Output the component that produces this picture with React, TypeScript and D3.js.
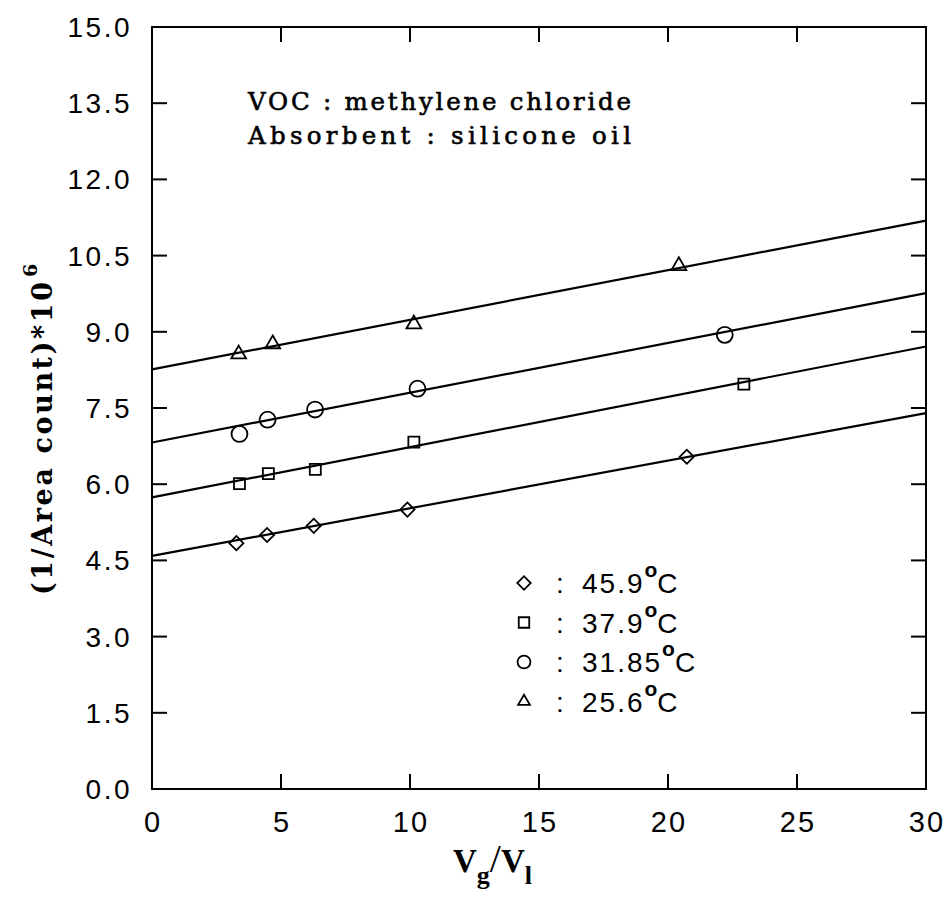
import React, { useEffect } from 'react';
import * as d3 from 'd3';

// values
const xTicks = [0, 5, 10, 15, 20, 25, 30];
const yTicks = [0, 1.5, 3, 4.5, 6, 7.5, 9, 10.5, 12, 13.5, 15];

const tempLabels = ['45.9', '37.9', '31.85', '25.6'];
const markerKinds = ['diamond', 'square', 'circle', 'triangle'];

const diamondX = [3.27, 4.46, 6.27, 9.9, 20.73];
const diamondY = [4.84, 5.0, 5.18, 5.5, 6.54];
const squareX = [3.39, 4.51, 6.33, 10.15, 22.94];
const squareY = [6.01, 6.21, 6.29, 6.83, 7.97];
const circleX = [3.39, 4.48, 6.32, 10.29, 22.2];
const circleY = [6.99, 7.27, 7.47, 7.88, 8.94];
const triangleX = [3.36, 4.68, 10.15, 20.42];
const triangleY = [8.56, 8.76, 9.15, 10.3];

// fitted lines, value at x = 0 and at x = 30
const fitStart = [4.59, 5.74, 6.82, 8.26];
const fitEnd = [7.4, 8.71, 9.76, 11.19];

const seriesX = [diamondX, squareX, circleX, triangleX];
const seriesY = [diamondY, squareY, circleY, triangleY];

const W = 949;
const H = 904;
const left = 152, right = 926, top = 27, bottom = 789;

const x = d3.scaleLinear().domain([0, 30]).range([left, right]);
const y = d3.scaleLinear().domain([0, 15]).range([bottom, top]);

const sansFont = '"Liberation Sans", Arial, sans-serif';
const slabFont = '"DejaVu Serif", serif';
const serifFont = '"Liberation Serif", "Times New Roman", serif';

const markerPath = (kind: string, big: boolean) => {
  if (kind === 'circle') return d3.symbol(d3.symbolCircle, big ? 200 : 130)() as string;
  if (kind === 'square') return d3.symbol(d3.symbolSquare, big ? 121 : 110)() as string;
  if (kind === 'triangle') return d3.symbol(d3.symbolTriangle, big ? 95 : 60)() as string;
  return d3.symbol(d3.symbolSquare, big ? 100 : 90)() as string;
};

const Marker = ({ kind, cx, cy, big }: { kind: string; cx: number; cy: number; big: boolean }) => (
  <path
    d={markerPath(kind, big)}
    transform={`translate(${cx},${cy})${kind === 'diamond' ? ' rotate(45)' : ''}`}
    fill="none"
    stroke="#000"
    strokeWidth={1.8}
  />
);

export default function App() {
  useEffect(() => {
    document.body.style.margin = '0';
  }, []);

  const tickLen = 15;
  const line = d3.line<[number, number]>().x(d => x(d[0])).y(d => y(d[1]));

  return (
    <svg width={W} height={H} style={{ display: 'block', background: '#fff' }}>
      {/* frame */}
      <rect x={left} y={top} width={right - left} height={bottom - top} fill="none" stroke="#000" strokeWidth={2} />

      {/* x ticks, inward on bottom and top */}
      {xTicks.map(t => (
        <g key={`xt${t}`}>
          {t > 0 && t < 30 && (
            <>
              <line x1={x(t)} x2={x(t)} y1={bottom} y2={bottom - tickLen} stroke="#000" strokeWidth={2} />
              <line x1={x(t)} x2={x(t)} y1={top} y2={top + tickLen} stroke="#000" strokeWidth={2} />
            </>
          )}
          <text x={x(t) + 1} y={832} textAnchor="middle" fontFamily={sansFont} fontSize={29} letterSpacing={2} fill="#000">
            {t}
          </text>
        </g>
      ))}

      {/* y ticks, inward on left and right */}
      {yTicks.map(t => (
        <g key={`yt${t}`}>
          {t > 0 && t < 15 && (
            <>
              <line x1={left} x2={left + tickLen} y1={y(t)} y2={y(t)} stroke="#000" strokeWidth={2} />
              <line x1={right} x2={right - tickLen} y1={y(t)} y2={y(t)} stroke="#000" strokeWidth={2} />
            </>
          )}
          <text x={132} y={y(t) + 10} textAnchor="end" fontFamily={sansFont} fontSize={28} letterSpacing={2.5} fill="#000">
            {t.toFixed(1)}
          </text>
        </g>
      ))}

      {/* fitted lines */}
      {fitStart.map((s, i) => (
        <path
          key={`fit${i}`}
          d={line([[0, s], [30, fitEnd[i]]]) as string}
          fill="none"
          stroke="#000"
          strokeWidth={2.2}
        />
      ))}

      {/* data points */}
      {seriesX.map((xs, i) =>
        xs.map((v, j) => (
          <Marker key={`m${i}-${j}`} kind={markerKinds[i]} cx={x(v)} cy={y(seriesY[i][j])} big />
        ))
      )}

      {/* annotation */}
      <g fontFamily={slabFont} fontSize={24.5} fill="#000" stroke="#000" strokeWidth={0.6}>
        <text x={248} y={110} textLength={383} lengthAdjust="spacing">
          VOC : methylene chloride
        </text>
        <text x={248} y={144} textLength={383} lengthAdjust="spacing">
          Absorbent : silicone oil
        </text>
      </g>

      {/* legend */}
      {tempLabels.map((lab, i) => {
        const cy = 583 + i * 39.5;
        return (
          <g key={`lg${i}`}>
            <Marker kind={markerKinds[i]} cx={524} cy={cy} big={false} />
            <text x={556} y={cy + 10} fontFamily={sansFont} fontSize={28} letterSpacing={2} fill="#000">
              {':  '}
              <tspan x={582}>{lab}</tspan>
              <tspan dy={-16} fontSize={21} fontWeight="bold" letterSpacing={0}>o</tspan>
              <tspan dy={16}>C</tspan>
            </text>
          </g>
        );
      })}

      {/* y axis label */}
      <g transform="translate(52,595) rotate(-90)">
        <text fontFamily={slabFont} fontWeight="bold" fontSize={27} textLength={313} lengthAdjust="spacing" fill="#000">
          (1/Area count)*10
        </text>
        <text x={318} y={-15} fontFamily={slabFont} fontWeight="bold" fontSize={19} fill="#000">
          6
        </text>
      </g>

      {/* x axis label */}
      <text x={453} y={872} fontFamily={serifFont} fontWeight="bold" fontSize={33} fill="#000">
        V
        <tspan dy={12} fontSize={26}>g</tspan>
        <tspan dy={-12} fontSize={40} fontWeight="normal">/</tspan>
        <tspan>V</tspan>
        <tspan dy={12} fontSize={26}>l</tspan>
      </text>
    </svg>
  );
}
